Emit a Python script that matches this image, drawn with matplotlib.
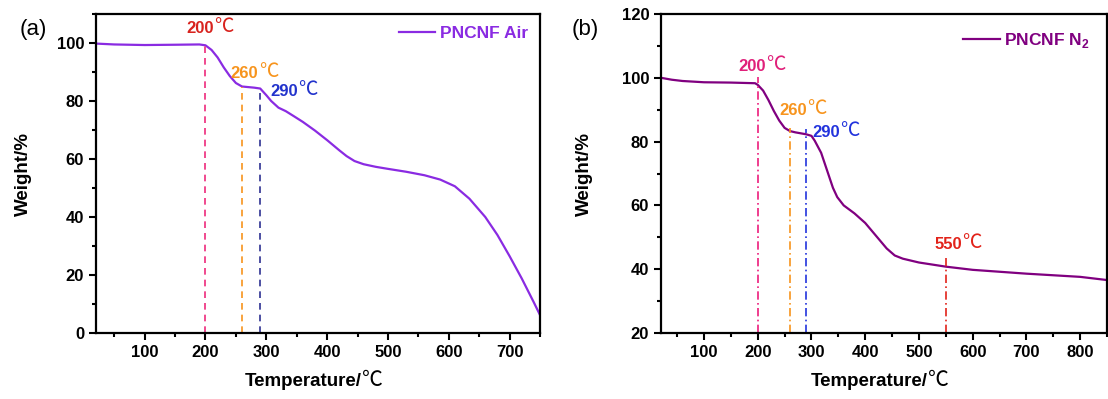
import numpy as np
import matplotlib.pyplot as plt
from matplotlib.ticker import MultipleLocator

plt.rcParams['font.family'] = ['Liberation Sans', 'Noto Sans CJK SC', 'DejaVu Sans']
plt.rcParams['font.weight'] = 'bold'
plt.rcParams['mathtext.fontset'] = 'custom'
plt.rcParams['mathtext.bf'] = 'Liberation Sans:bold'
plt.rcParams['mathtext.rm'] = 'Liberation Sans:bold'

# --- TGA in air ---
t_air = [20, 50, 100, 150, 190, 200, 210, 220, 230, 240, 250, 260, 270, 280, 290,
         300, 308, 320, 332, 345, 360, 380, 400, 420, 432, 445, 460, 480, 500, 530, 560,
         586, 610, 634, 660, 680, 700, 720, 740, 750]
w_air = [99.8, 99.5, 99.3, 99.4, 99.5, 99.2, 97.6, 95.0, 91.6, 88.6, 86.2, 85.0, 84.8, 84.6, 84.3,
         82.0, 80.0, 77.7, 76.5, 74.8, 72.8, 69.8, 66.5, 63.0, 61.0, 59.3, 58.2, 57.3, 56.6, 55.6, 54.4,
         52.9, 50.6, 46.3, 40.0, 33.8, 26.5, 18.8, 10.5, 6.2]

# --- TGA in nitrogen ---
t_n2 = [20, 40, 60, 100, 150, 195, 200, 210, 220, 230, 240, 250, 260, 270, 280, 290,
        300, 306, 318, 326, 333, 340, 348, 360, 380, 400, 420, 440, 455, 470, 500, 550, 600,
        700, 800, 850]
w_n2 = [100.0, 99.4, 99.0, 98.6, 98.5, 98.3, 97.8, 96.0, 93.0, 89.6, 86.6, 84.3, 83.3, 82.9, 82.6, 82.3,
        81.8, 80.3, 76.5, 72.5, 69.0, 65.5, 62.6, 60.0, 57.5, 54.5, 50.5, 46.5, 44.3, 43.3, 42.1, 40.8, 39.8,
        38.6, 37.6, 36.6]

# marked temperatures: (T, top of line, label x, label y, line colour, text colour)
marks_air = [(200, 99.2, 191, 105.0, '#EE2A7B', '#D8231E'),
             (260, 85.0, 264, 89.5, '#F7941D', '#F7941D'),
             (290, 84.3, 329, 83.2, '#2E3192', '#2233CC')]
marks_n2 = [(200, 100.2, 189, 103.6, '#EC1C7C', '#E0207A'),
            (260, 84.4, 266, 89.6, '#F7941D', '#F7941D'),
            (290, 84.0, 327, 82.7, '#2233DD', '#2233DD'),
            (550, 44.4, 554, 47.8, '#E2231A', '#E2231A')]


def deg_label(ax, x, y, num, color):
    t = ax.text(x, y, num, color=color, fontsize=12, fontweight='bold',
                ha='center', va='center')
    ax.annotate('℃', xy=(1, 0), xycoords=t, xytext=(0.3, -0.5), textcoords='offset points',
                ha='left', va='bottom', color=color, fontsize=14, fontweight='normal',
                family=['Noto Sans CJK SC', 'DejaVu Sans'])


def style(ax, xlim, ylim, ylab_x, tmp_x):
    ax.set_xlim(*xlim)
    ax.set_ylim(*ylim)
    ax.xaxis.set_major_locator(MultipleLocator(100))
    ax.xaxis.set_minor_locator(MultipleLocator(50))
    ax.yaxis.set_major_locator(MultipleLocator(20))
    ax.yaxis.set_minor_locator(MultipleLocator(10))
    ax.tick_params(which='major', direction='out', length=5, width=1.5, labelsize=12)
    ax.tick_params(which='minor', direction='out', length=3, width=1.5)
    for s in ax.spines.values():
        s.set_linewidth(1.6)
    for lab in ax.get_xticklabels() + ax.get_yticklabels():
        lab.set_fontweight('bold')
    ax.set_ylabel('Weight/%', fontsize=13.5, fontweight='bold')
    ax.yaxis.set_label_coords(ylab_x, 0.5)
    t = ax.text(tmp_x, -0.125, 'Temperature/', transform=ax.transAxes, ha='center', va='top',
                fontsize=13.5, fontweight='bold')
    ax.annotate('℃', xy=(1, 0), xycoords=t, xytext=(0.3, -0.5), textcoords='offset points',
                ha='left', va='bottom', fontsize=15, fontweight='normal',
                family=['Noto Sans CJK SC', 'DejaVu Sans'])


fig = plt.figure(figsize=(11.08, 3.99), dpi=100)
ax1 = fig.add_axes([96 / 1108, 66 / 399, 444 / 1108, 319 / 399])
ax2 = fig.add_axes([661 / 1108, 66 / 399, 446 / 1108, 319 / 399])

# (a) air
c_air = '#8A2BE2'
ax1.plot(t_air, w_air, color=c_air, lw=1.6, label='PNCNF Air')
for T, top, lx, ly, lc, tc in marks_air:
    ax1.plot([T, T], [0, top], color=lc, lw=1.2, ls=(0, (4, 3)))
    deg_label(ax1, lx, ly, str(T), tc)
style(ax1, (20, 750), (0, 110), -0.145, 0.467)
ax1.legend(loc='upper right', frameon=False, handlelength=2.1,
           handletextpad=0.25, borderaxespad=0.3, labelcolor=c_air,
           prop={'weight': 'bold', 'size': 12.5})
ax1.text(-0.172, 0.95, '(a)', transform=ax1.transAxes, fontsize=16, fontweight='normal',
         ha='left', va='center')

# (b) nitrogen
c_n2 = '#800080'
ax2.plot(t_n2, w_n2, color=c_n2, lw=1.6, label=r'PNCNF N$_\mathbf{2}$')
for T, top, lx, ly, lc, tc in marks_n2:
    ax2.plot([T, T], [20, top], color=lc, lw=1.2, ls=(0, (5, 2, 1, 2)))
    deg_label(ax2, lx, ly, str(T), tc)
style(ax2, (20, 850), (20, 120), -0.153, 0.467)
ax2.legend(loc='upper right', frameon=False, handlelength=2.1,
           handletextpad=0.25, borderaxespad=0.6, labelcolor=c_n2,
           prop={'weight': 'bold', 'size': 12.5})
ax2.text(-0.2, 0.95, '(b)', transform=ax2.transAxes, fontsize=16, fontweight='normal',
         ha='left', va='center')

fig.savefig('out.png', dpi=100)
